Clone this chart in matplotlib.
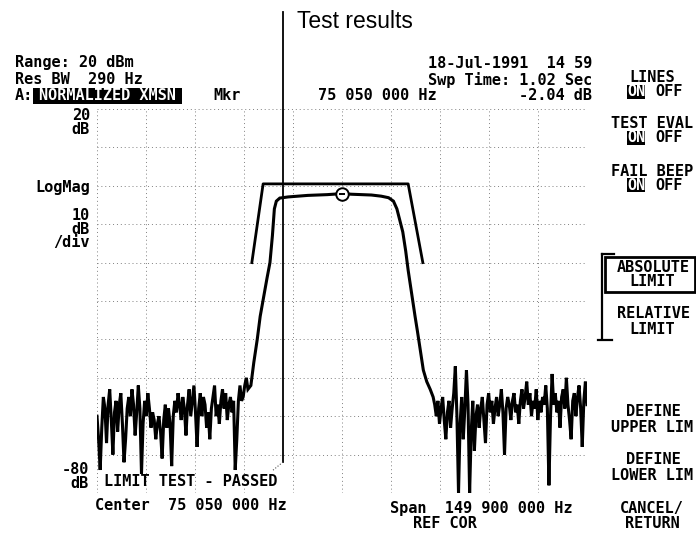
import numpy as np
import matplotlib
matplotlib.use("Agg")
import matplotlib.pyplot as plt
from matplotlib.lines import Line2D
from matplotlib.patches import Rectangle

W, H = 696, 534

# sweep settings (MHz)
F_START, F_STOP = 0.1, 150.0
F_CENTER = 75.05
DIV = (F_STOP - F_START) / 10
REF_TOP, REF_BOT = 20, -80

# stopband noise, left of the passband (dB)
noise_left = [-60, -66, -74, -63, -55, -58, -67, -57, -53, -61, -70, -59, -56, -64,
              -57, -54, -62, -72, -66, -58, -55, -60, -53, -57, -65, -59, -52, -58,
              -75, -62, -56, -60, -54, -58, -63, -59, -61, -66, -62, -60, -64, -71,
              -61, -57, -63, -58, -62, -73, -60, -56, -59, -54, -57, -61, -55, -58,
              -65, -57, -53, -60, -56, -52, -59, -68, -58, -54, -60, -55, -57, -63,
              -59, -66, -58, -55, -52, -60, -57, -62, -56, -53, -58, -54, -61, -57,
              -55, -59, -56, -74, -66, -56, -52, -56, -55, -52, -50, -53]
noise_left_span = (0.1, 46.27)

# filter skirts and passband (MHz, dB)
band_f = [47.17, 48.07, 49.12, 50.02, 51.07, 52.12, 53.01, 53.76, 54.36, 54.96, 56.01,
          58.56, 61.56, 64.56, 67.56, 70.55, 75.05, 78.05, 81.05, 84.04, 87.04, 89.29,
          90.79, 91.84, 92.74, 93.64, 94.54, 95.29, 96.34, 97.40, 98.15, 99.04, 99.93,
          100.98, 102.03]
band_db = [-52, -46, -40, -34, -29, -24, -20, -13, -6, -4, -3.2,
           -2.9, -2.7, -2.5, -2.4, -2.3, -2.04, -2.2, -2.3, -2.4, -2.7, -3.1,
           -4.0, -6, -9, -12, -17, -22, -28, -34, -38, -43, -48,
           -51, -53]

# stopband noise, right of the passband (dB)
noise_right = [-55, -57, -60, -56, -62, -58, -55, -61, -66, -59,
               -56, -63, -58, -54, -47, -60, -80, -62, -55, -66,
               -58, -48, -57, -80, -64, -56, -69, -60, -57, -63,
               -58, -55, -61, -67, -57, -54, -59, -56, -62, -58,
               -55, -60, -57, -53, -59, -70, -58, -55, -57, -61,
               -56, -54, -59, -57, -62, -56, -53, -58, -55, -51,
               -57, -54, -60, -56, -58, -53, -61, -56, -59, -55,
               -57, -52, -58, -78, -60, -49, -57, -54, -59, -56,
               -63, -55, -53, -58, -50, -57, -61, -66, -56, -54,
               -60, -55, -52, -58, -68, -56, -51, -57]
noise_right_span = (102.93, 150.0)

# upper limit line (MHz, dB)
limit_f = [47.47, 50.92, 95.29, 99.78]
limit_db = [-20, 0.5, 0.5, -20]

marker_f, marker_db = 75.05, -2.04

MONO = "DejaVu Sans Mono"
FS = 11

fig = plt.figure(figsize=(W / 100, H / 100), dpi=100)
fig.patch.set_facecolor("white")


def fx(x):
    return x / W


def fy(y):
    return 1 - y / H


def label(x, y, s, ha="left", size=FS, color="black", **kw):
    fig.text(fx(x), fy(y), s, ha=ha, va="center", family=MONO,
             fontweight="bold", fontsize=size, color=color, **kw)


def hilite(x0, x1, y0, y1, s, size=FS):
    fig.add_artist(Rectangle((fx(x0), fy(y1)), fx(x1 - x0), (y1 - y0) / H,
                             transform=fig.transFigure, facecolor="black",
                             edgecolor="none"))
    fig.text(fx((x0 + x1) / 2), fy((y0 + y1) / 2), s, ha="center", va="center",
             family=MONO, fontweight="bold", fontsize=size, color="white")


ax = fig.add_axes([fx(97), fy(493), (587 - 97) / W, (493 - 109) / H])

f_left = np.linspace(*noise_left_span, len(noise_left))
f_right = np.linspace(*noise_right_span, len(noise_right))
freq = np.concatenate([f_left, band_f, f_right])
trace = np.concatenate([noise_left, band_db, noise_right])

ax.plot(freq, trace, color="black", lw=2.2, solid_joinstyle="miter", zorder=4)
ax.plot(limit_f, limit_db, color="black", lw=2.0, zorder=4)
ax.plot(marker_f, marker_db, "o", ms=9, mfc="white", mec="black", mew=1.4, zorder=5)
ax.plot(marker_f, marker_db, "_", ms=5, color="black", mew=1.4, zorder=6)

ax.set_xlim(F_START, F_STOP)
ax.set_ylim(REF_BOT, REF_TOP)
ax.set_xticks([F_START + k * DIV for k in range(11)])
ax.set_yticks(range(REF_BOT, REF_TOP + 1, 10))
ax.grid(True, color="0.5", lw=0.7, ls=(0, (1, 3)))
ax.tick_params(length=0, labelbottom=False, labelleft=False)
for sp in ax.spines.values():
    sp.set_visible(False)

# header block
label(15, 62, "Range: 20 dBm")
label(15, 79, "Res BW  290 Hz")
label(15, 96, "A:")
hilite(33, 182, 88, 104, "NORMALIZED XMSN")
label(213, 96, "Mkr")
label(318, 96, "75 050 000 Hz")
label(592, 63, "18-Jul-1991  14 59", ha="right")
label(592, 80, "Swp Time: 1.02 Sec", ha="right")
label(592, 96, "-2.04 dB", ha="right")

# scale annotations left of the grid
label(90, 115, "20", ha="right")
label(90, 129, "dB", ha="right")
label(90, 187, "LogMag", ha="right")
label(90, 215, "10", ha="right")
label(90, 229, "dB", ha="right")
label(90, 243, "/div", ha="right")
label(89, 470, "-80", ha="right")
label(89, 484, "dB", ha="right")

label(104, 481, "LIMIT TEST - PASSED")
label(95, 506, "Center  75 050 000 Hz")
label(390, 508, "Span  149 900 000 Hz")
label(445, 524, "REF COR", ha="center")

# softkey column
CX = 652
label(CX, 77, "LINES", ha="center")
hilite(627, 645, 85, 99, "ON")
label(669, 92, "OFF", ha="center")
label(CX, 123, "TEST EVAL", ha="center")
hilite(627, 645, 131, 145, "ON")
label(669, 138, "OFF", ha="center")
label(CX, 171, "FAIL BEEP", ha="center")
hilite(627, 645, 178, 192, "ON")
label(669, 185, "OFF", ha="center")

fig.add_artist(Rectangle((fx(605), fy(292)), fx(695 - 605), (292 - 257) / H,
                         transform=fig.transFigure, facecolor="none",
                         edgecolor="black", lw=2.0))
label(653, 267, "ABSOLUTE", ha="center")
label(652, 282, "LIMIT", ha="center")
label(653, 313, "RELATIVE", ha="center")
label(652, 329, "LIMIT", ha="center")
for xs, ys, lw in [([602, 602], [254, 338], 1.6), ([602, 614], [254, 254], 1.6),
                   ([598, 612], [340, 340], 1.6)]:
    fig.add_artist(Line2D([fx(v) for v in xs], [fy(v) for v in ys],
                          transform=fig.transFigure, color="black", lw=lw))

label(653, 412, "DEFINE", ha="center")
label(652, 427, "UPPER LIM", ha="center")
label(653, 460, "DEFINE", ha="center")
label(652, 475, "LOWER LIM", ha="center")
label(652, 508, "CANCEL/", ha="center")
label(652, 523, "RETURN", ha="center")

# callout
fig.add_artist(Line2D([fx(283), fx(283)], [fy(12), fy(462)],
                      transform=fig.transFigure, color="black", lw=1.3))
fig.add_artist(Line2D([fx(283), fx(272)], [fy(462), fy(471)],
                      transform=fig.transFigure, color="0.3", lw=0.8, ls=":"))
fig.text(fx(297), fy(21), "Test results", ha="left", va="center",
         family=["Liberation Sans Narrow", "Liberation Sans"], fontsize=16.5)

fig.savefig("out.png", dpi=100, facecolor="white")
